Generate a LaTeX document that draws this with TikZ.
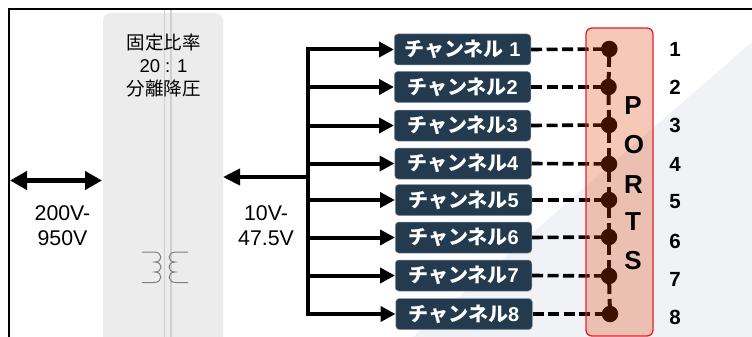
\documentclass[tikz,border=0pt]{standalone}
\usepackage{fontspec}
\setmainfont{Liberation Sans}
\newfontfamily\cjk{Noto Sans CJK JP}
\newfontfamily\cjkb{Noto Sans CJK JP Bold}
\usetikzlibrary{arrows.meta}
\definecolor{chfill}{HTML}{243A4F}
\definecolor{chline}{HTML}{8794A1}
\definecolor{portfill}{HTML}{DF3C03}
\definecolor{portline}{HTML}{E5202E}
\definecolor{panel}{HTML}{ECECEC}
\definecolor{panelline}{HTML}{CFCFCF}
\definecolor{bgtri}{HTML}{F1F2F5}
\definecolor{coil}{HTML}{808080}
\tikzset{
  chbox/.style={rectangle,rounded corners=3.5pt,fill=chfill,draw=chline,line width=.5pt,
    minimum width=136.5pt,minimum height=31pt,inner sep=0pt,text=white,font=\fontsize{20}{20}\selectfont\bfseries},
  portdot/.style={circle,fill=black,minimum size=16.5pt,inner sep=0pt},
  bus/.style={line width=4pt,black,line cap=rect},
  busarrow/.style={line width=4pt,black,-{Triangle[length=15pt,width=15pt]}},
  feedarrow/.style={line width=4pt,black,-{Triangle[length=17pt,width=16pt]}},
  bothways/.style={line width=4.5pt,black,{Triangle[length=17pt,width=18pt]}-{Triangle[length=17pt,width=18pt]}},
  dashlink/.style={line width=3.6pt,black,dash pattern=on 11pt off 4.5pt},
  portlink/.style={line width=4pt,black,dash pattern=on 18pt off 5pt},
  txt/.style={font=\fontsize{21.3}{25}\selectfont,align=center,inner sep=0pt},
  num/.style={font=\fontsize{20.5}{20.5}\selectfont\bfseries,inner sep=0pt},
  portletter/.style={font=\fontsize{26}{26}\selectfont\bfseries,inner sep=0pt,text=black},
  coilline/.style={coil,line width=1pt}
}
\begin{document}
\begin{tikzpicture}[x=1pt,y=-1pt]
\useasboundingbox (0,0) rectangle (752,337);
\fill[white] (0,0) rectangle (752,337);
\fill[bgtri] (413,337) -- (752,42) -- (752,337) -- cycle;
% frame
\draw[black,line width=1.6pt] (9,337) -- (9,9) -- (752,9);
% transformer panel
\begin{scope}
\clip (0,0) rectangle (752,337);
\fill[panel,rounded corners=8pt] (103,13) rectangle (223,347);
\end{scope}
\draw[panelline,line width=1.3pt] (164.5,10) -- (164.5,337);
\draw[panelline,line width=1.3pt] (171,10) -- (171,337);
\node[inner sep=0pt,align=center,font=\fontsize{18.5}{23}\selectfont] (ratio) at (163.5,66)
  {{\cjk 固定比率}\\20 : 1\\{\cjk 分離降圧}};
% transformer symbol
\draw[coilline] (142,252) -- (154,252) .. controls (163,252) and (163,262) .. (155,262)
  .. controls (163,262) and (163,272) .. (155,272) .. controls (163,272) and (163,282.5) .. (154,282.5) -- (142,282.5);
\draw[coilline] (188,252) -- (176,252) .. controls (167,252) and (167,262) .. (175,262)
  .. controls (167,262) and (167,272) .. (175,272) .. controls (167,272) and (167,282.5) .. (176,282.5) -- (188,282.5);
% channels
\node[chbox] (c1) at (462.5,49.5) {{\cjkb チャンネル} 1};
\node[chbox] (c2) at (462.5,87) {{\cjkb チャンネル}2};
\node[chbox] (c3) at (462.5,125.5) {{\cjkb チャンネル}3};
\node[chbox] (c4) at (463,163.5) {{\cjkb チャンネル}4};
\node[chbox] (c5) at (463.5,200) {{\cjkb チャンネル}5};
\node[chbox] (c6) at (463.5,237.5) {{\cjkb チャンネル}6};
\node[chbox] (c7) at (463.5,275.5) {{\cjkb チャンネル}7};
\node[chbox] (c8) at (464,314) {{\cjkb チャンネル}8};
% port dots
\node[portdot] (d1) at (609.3,49) {};
\node[portdot] (d2) at (608.5,87) {};
\node[portdot] (d3) at (609,125) {};
\node[portdot] (d4) at (609,164) {};
\node[portdot] (d5) at (609,200) {};
\node[portdot] (d6) at (609,237) {};
\node[portdot] (d7) at (609,276) {};
\node[portdot] (d8) at (610,314) {};
% port chain
\draw[portlink] (d1.center) -- (d2.center);
\draw[portlink] (d2.center) -- (d3.center);
\draw[portlink] (d3.center) -- (d4.center);
\draw[portlink] (d4.center) -- (d5.center);
\draw[portlink] (d5.center) -- (d6.center);
\draw[portlink] (d6.center) -- (d7.center);
\draw[portlink] (d7.center) -- (d8.center);
% dashed channel to port
\foreach \i in {1,...,8} { \draw[dashlink] (c\i.east) -- (d\i.center); }
% ports panel laid over lines and dots
\fill[portfill,fill opacity=.28,rounded corners=6pt] (586,28) rectangle (653,336);
\node[rectangle,rounded corners=6pt,draw=portline,line width=1.3pt,minimum width=67pt,minimum height=308pt,inner sep=0pt] (ports) at (619.5,182) {};
% bus
\coordinate (b1) at (308,49.5);
\coordinate (b2) at (308,87);
\coordinate (b3) at (308,125.5);
\coordinate (b4) at (308,163.5);
\coordinate (b5) at (308,200);
\coordinate (b6) at (308,237.5);
\coordinate (b7) at (308,275.5);
\coordinate (b8) at (308,314);
\coordinate (feed) at (308,177);
\draw[bus] (b1) -- (b8);
\foreach \i in {1,...,8} { \draw[busarrow] (b\i) -- (c\i.west); }
\coordinate (panelr) at (223,177);
\draw[feedarrow] (feed) -- (panelr);
\coordinate (hvl) at (10,180.5);
\coordinate (hvr) at (102,180.5);
\draw[bothways] (hvl) -- (hvr);
% labels
\node[txt] (hv) at (62.5,226) {200V-\\950V};
\node[txt] (lv) at (266,226) {10V-\\47.5V};
\node[num] (n1) at (675,49) {1};
\node[num] (n2) at (675,87) {2};
\node[num] (n3) at (675,125) {3};
\node[num] (n4) at (675,164) {4};
\node[num] (n5) at (675,202) {5};
\node[num] (n6) at (675,241) {6};
\node[num] (n7) at (675,279) {7};
\node[num] (n8) at (675,317) {8};
\node[portletter] (pp) at (633,106) {P};
\node[portletter] (po) at (634,145) {O};
\node[portletter] (pr) at (633.5,185) {R};
\node[portletter] (pt) at (633,222) {T};
\node[portletter] (ps) at (633,261) {S};
\end{tikzpicture}
\end{document}
